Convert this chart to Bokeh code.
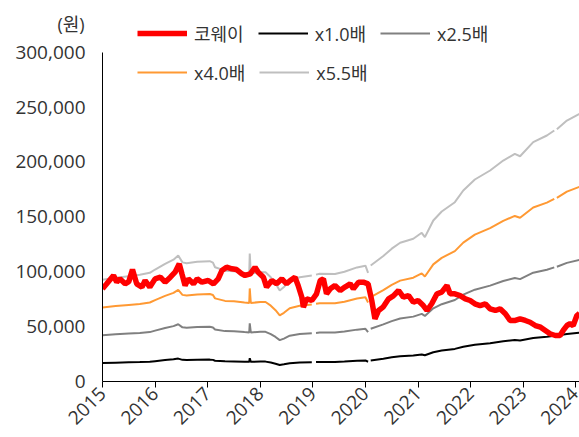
import math
from bokeh.plotting import figure
from bokeh.models import (Range1d, FixedTicker, NumeralTickFormatter, Legend,
                          LegendItem, Title, ColumnDataSource)
from bokeh.embed import file_html
from bokeh.resources import INLINE

# ---------------- data (x = fractional year) ----------------
price_t = [2015.00, 2015.08, 2015.21, 2015.27, 2015.33, 2015.43, 2015.50, 2015.57,
           2015.65, 2015.75, 2015.81, 2015.90, 2016.00, 2016.10, 2016.19, 2016.29,
           2016.38, 2016.46, 2016.51, 2016.57, 2016.63, 2016.73, 2016.80, 2016.89,
           2017.01, 2017.11, 2017.20, 2017.27, 2017.36, 2017.46, 2017.55, 2017.65,
           2017.71, 2017.81, 2017.90, 2017.96, 2018.06, 2018.12, 2018.22, 2018.31,
           2018.41, 2018.50, 2018.57, 2018.66, 2018.72, 2018.79, 2018.82, 2018.88,
           2018.98, 2019.07, 2019.14, 2019.20, 2019.26, 2019.33, 2019.42, 2019.52,
           2019.61, 2019.71, 2019.77, 2019.87, 2019.96, 2020.05, 2020.12, 2020.18,
           2020.25, 2020.34, 2020.44, 2020.53, 2020.63, 2020.72, 2020.82, 2020.91,
           2021.00, 2021.10, 2021.17, 2021.26, 2021.36, 2021.45, 2021.55, 2021.61,
           2021.70, 2021.80, 2021.90, 2021.99, 2022.08, 2022.18, 2022.28, 2022.37,
           2022.47, 2022.56, 2022.66, 2022.75, 2022.85, 2022.94, 2023.04, 2023.13,
           2023.23, 2023.33, 2023.42, 2023.51, 2023.61, 2023.70, 2023.76, 2023.83,
           2023.89, 2023.95, 2024.02, 2024.07]
price_v = [84400, 89000, 96600, 90500, 93500, 89000, 91000, 102000,
           89000, 86000, 92000, 86000, 93500, 95000, 90500, 95000,
           99600, 107200, 98100, 87500, 93500, 89000, 93500, 90500,
           92000, 89000, 93500, 101100, 104100, 102700, 102000, 98100,
           96600, 98100, 104100, 99600, 95000, 86000, 92000, 89000,
           93500, 89000, 92000, 95000, 87500, 76800, 67700, 75300,
           73800, 79900, 92000, 93500, 79900, 84400, 87500, 82900,
           86000, 89000, 84400, 90500, 90500, 89000, 73800, 57100,
           64700, 68000, 75300, 78000, 82900, 76800, 78300, 72200,
           73800, 69200, 64700, 70800, 79900, 81400, 87500, 79900,
           79900, 78300, 75300, 73800, 70800, 69200, 70800, 66200,
           64700, 66200, 61700, 55600, 55600, 57100, 55600, 54000,
           51000, 49500, 46500, 43500, 41900, 41900, 46500, 51000,
           52600, 51000, 60100, 62000]

nan = float("nan")
bps_t = [2015.00, 2015.25, 2015.50, 2015.71, 2015.90, 2016.00, 2016.19, 2016.35,
         2016.44, 2016.52, 2016.60, 2016.80, 2017.04, 2017.10, 2017.14, 2017.33,
         2017.50, 2017.70, 2017.79, 2017.80, 2017.82, 2018.00, 2018.10, 2018.20,
         2018.29, 2018.37, 2018.45, 2018.56, 2018.75, 2018.98, 2019.02, 2019.06,
         2019.13, 2019.42, 2019.60, 2019.84, 2020.00, 2020.05, 2020.07, 2020.10,
         2020.34, 2020.50, 2020.66, 2020.91, 2021.07, 2021.13, 2021.29, 2021.45,
         2021.70, 2021.86, 2022.08, 2022.37, 2022.62, 2022.84, 2022.94, 2023.19,
         2023.45, 2023.59, 2023.61, 2023.64, 2023.83, 2024.07]
bps_v = [16850, 17180, 17450, 17670, 18000, 18550, 19490, 20180,
         20870, 19730, 19600, 19820, 19930, 19700, 18930, 18360,
         18270, 18000, 17890, 21200, 17890, 18110, 18110, 17270,
         16240, 15070, 15640, 16700, 17270, 17550, nan, 17700,
         17840, 17820, 18180, 18900, 19180, 18000, nan, 19220,
         20800, 22000, 22980, 23640, 24630, 23910, 26670, 28160,
         29700, 31640, 33460, 34950, 36600, 37710, 37310, 39640,
         40750, 41580, nan, 41800, 43230, 44350]

multiples = [1.0, 2.5, 4.0, 5.5]
band_labels = ["x1.0배", "x2.5배", "x4.0배", "x5.5배"]
band_colors = ["#000000", "#808080", "#FF9933", "#BFBFBF"]
price_label = "코웨이"
year_ticks = [2015, 2016, 2017, 2018, 2019, 2020, 2021, 2022, 2023, 2024]
y_ticks = [0, 50000, 100000, 150000, 200000, 250000, 300000]
unit_label = "(원)"

FONT = "'Open Sans', 'Noto Sans CJK KR', sans-serif"
TXT = "#333333"

W, H = 579, 437
TOP = 18                      # frame top (figure px)
BOTTOM = 381                  # frame bottom (figure px)
Y300 = 51.7                   # pixel where 300,000 sits
y_end = 300000 * (BOTTOM - TOP) / (BOTTOM - Y300)

p = figure(width=W, height=H, output_backend="svg", toolbar_location=None,
           x_range=Range1d(2015.0, 2024.07), y_range=Range1d(0, y_end),
           min_border_left=102, min_border_right=0, min_border_top=TOP,
           min_border_bottom=H - BOTTOM)
p.outline_line_color = None
p.grid.visible = False

renderers = {}
for m, lab, col in reversed(list(zip(multiples, band_labels, band_colors))):
    src = ColumnDataSource(dict(x=bps_t, y=[b * m for b in bps_v]))
    renderers[lab] = p.line("x", "y", source=src, line_color=col, line_width=2)
src_p = ColumnDataSource(dict(x=price_t, y=price_v))
renderers[price_label] = p.line("x", "y", source=src_p, line_color="#FF0000",
                                line_width=5.5)

# axes
xa = p.xaxis[0]
xa.ticker = FixedTicker(ticks=year_ticks)
xa.formatter = NumeralTickFormatter(format="0")
xa.major_label_orientation = math.pi / 4
xa.major_tick_in = 0
xa.major_tick_out = 6
xa.minor_tick_in = 0
xa.minor_tick_out = 0
xa.axis_line_color = "#000000"
xa.major_tick_line_color = "#000000"
xa.major_label_text_font = FONT
xa.major_label_text_font_size = "19px"
xa.major_label_text_color = TXT
xa.major_label_standoff = 3

ya = p.yaxis[0]
ya.ticker = FixedTicker(ticks=y_ticks)
ya.bounds = (0, 300000)
ya.formatter = NumeralTickFormatter(format="0,0")
ya.major_tick_in = 0
ya.major_tick_out = 0
ya.minor_tick_in = 0
ya.minor_tick_out = 0
ya.axis_line_color = "#000000"
ya.major_label_text_font = FONT
ya.major_label_text_font_size = "19px"
ya.major_label_text_color = TXT
ya.major_label_standoff = 17

# legends (two rows)
def make_legend(labels, loc):
    items = [LegendItem(label=lab, renderers=[renderers[lab]]) for lab in labels]
    return Legend(items=items, location=loc, orientation="horizontal",
                  glyph_width=50, glyph_height=20, label_height=20,
                  label_standoff=7, spacing=14, padding=0, margin=0,
                  border_line_alpha=0, background_fill_alpha=0,
                  label_text_font=FONT, label_text_font_size="18px",
                  label_text_color=TXT)

p.add_layout(make_legend([price_label, band_labels[0], band_labels[1]], (35, 335)), "center")
p.add_layout(make_legend([band_labels[2], band_labels[3]], (35, 296)), "center")

unit = Title(text=unit_label, align="left", offset=-45, standoff=-34,
             vertical_align="bottom", text_font=FONT, text_font_size="18px",
             text_color=TXT, text_font_style="normal")
p.add_layout(unit, "above")

open("out.html", "w").write(file_html(p, INLINE))
